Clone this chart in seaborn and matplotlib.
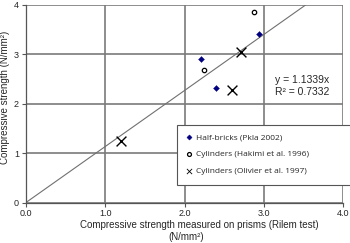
import numpy as np
import pandas as pd
import seaborn as sns
import matplotlib
matplotlib.use('Agg')
import matplotlib.pyplot as plt
from matplotlib.patches import Rectangle

# data
half_x = [2.21, 2.40, 2.94]
half_y = [2.91, 2.31, 3.41]
hakimi_x = [2.88, 2.25]
hakimi_y = [3.86, 2.68]
olivier_x = [1.20, 2.60, 2.71]
olivier_y = [1.25, 2.27, 3.05]
slope = 1.1339
r2 = 0.7332
x_ticks = [0, 1, 2, 3, 4]
y_ticks = [0, 1, 2, 3, 4]

sns.set_style("white")
plt.rcParams['font.family'] = ['Liberation Sans', 'DejaVu Sans']

fig = plt.figure(figsize=(3.5, 2.43), dpi=100)
ax = fig.add_axes([26/350, 1-202.5/243, 317/350, 197.5/243])

grid_c = "#7a7a7a"
for v in x_ticks:
    ax.axvline(v, color=grid_c, lw=1.2, zorder=0)
for v in y_ticks:
    ax.axhline(v, color=grid_c, lw=1.2, zorder=0)

line_x = np.array([0, 4.0])
ax.plot(line_x, slope*line_x, color="#707070", lw=0.8, zorder=1)

df_h = pd.DataFrame({"x": half_x, "y": half_y})
df_k = pd.DataFrame({"x": hakimi_x, "y": hakimi_y})
df_o = pd.DataFrame({"x": olivier_x, "y": olivier_y})
sns.scatterplot(data=df_h, x="x", y="y", ax=ax, marker="D", s=9, color="#000080",
                edgecolor="#000080", linewidth=0.3, label="Half-bricks (Pkla 2002)", zorder=3)
sns.scatterplot(data=df_k, x="x", y="y", ax=ax, marker="o", s=10, facecolor="white",
                edgecolor="black", linewidth=0.9, label="Cylinders (Hakimi et al. 1996)", zorder=3)
sns.scatterplot(data=df_o, x="x", y="y", ax=ax, marker="x", s=50, color="black",
                linewidth=1.0, label="Cylinders (Olivier et al. 1997)", zorder=3)

ax.set_xlim(0, 4)
ax.set_ylim(0, 4)
ax.set_xticks(x_ticks)
ax.set_xticklabels(["%.1f" % v for v in x_ticks])
ax.set_yticks(y_ticks)
ax.set_yticklabels([str(v) for v in y_ticks])
ax.tick_params(axis='both', labelsize=6.5, length=3, width=0.8, color="#555555",
               pad=2, bottom=True, left=True)
for s in ["top", "right"]:
    ax.spines[s].set_visible(False)
for s in ["left", "bottom"]:
    ax.spines[s].set_color("#555555")
    ax.spines[s].set_linewidth(0.9)
ax.set_xlabel("")
ax.set_ylabel("Compressive strength (N/mm²)", fontsize=7, labelpad=2)
ax.yaxis.set_label_coords(-0.052, 0.53)

fig.text(199/350, 1-225/243, "Compressive strength measured on prisms (Rilem test)",
         fontsize=7, ha="center", va="center")
fig.text(186/350, 1-236.5/243, "(N/mm²)", fontsize=7, ha="center", va="center")

ax.text(3.14, 2.48, "y = 1.1339x", fontsize=7.5, va="center", ha="left")
ax.text(3.14, 2.24, "R\u00b2 = 0.7332", fontsize=7.5, va="center", ha="left")

ax.add_patch(Rectangle((177/350, 1-185/243), 180/350, 60/243,
                       transform=fig.transFigure, facecolor="white",
                       edgecolor="#555555", lw=0.8, zorder=5, clip_on=False))
leg = ax.legend(loc="upper left", bbox_to_anchor=(179/350, 1-128/243),
                bbox_transform=fig.transFigure, frameon=False,
                prop={"family": "Open Sans", "size": 6}, handletextpad=0.35,
                handlelength=1.0, labelspacing=1.05, borderpad=0.2)
leg.legend_handles[0].set_sizes([7])
leg.legend_handles[1].set_sizes([8])
leg.legend_handles[2].set_sizes([14])
leg.legend_handles[2].set_linewidth(0.6)
leg.set_zorder(6)

fig.savefig("out.png", dpi=100)
